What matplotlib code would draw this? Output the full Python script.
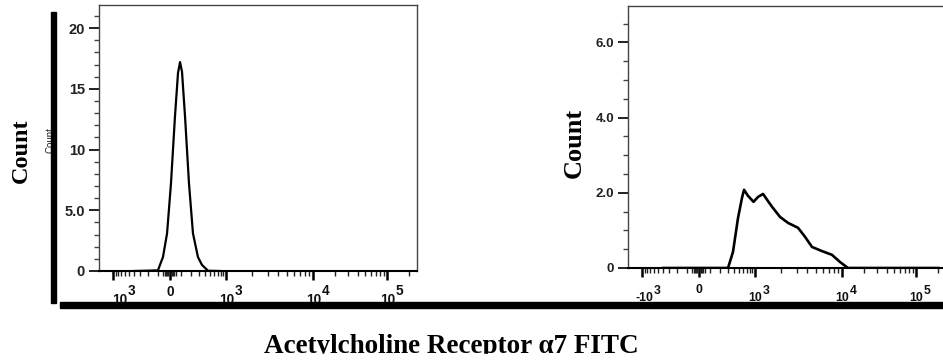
import numpy as np
import matplotlib
matplotlib.use("Agg")
import matplotlib.pyplot as plt
from matplotlib.patches import Rectangle
from matplotlib.transforms import ScaledTranslation, blended_transform_factory

plt.rcParams['font.family'] = ['Liberation Sans', 'DejaVu Sans']

# ---------------- data ----------------
left_x = [-400, -98, -80, -54, -20, 12, 45, 71, 89, 107, 136, 177, 223, 289, 351, 463, 800]
left_count = [0, 0.05, 0.5, 1.15, 3.1, 7.2, 12.7, 16.3, 17.2, 16.4, 12.7, 7.2, 3.1, 1.15, 0.5, 0.02, 0]

right_x = [-400, 305, 386, 484, 577, 629, 745, 941, 1083, 1236, 1568, 1938, 2395,
           3120, 3758, 4520, 5890, 7670, 9480, 12050, 200000]
right_count = [0, 0, 0.43, 1.33, 1.87, 2.08, 1.92, 1.76, 1.89, 1.97, 1.63, 1.36, 1.20,
               1.07, 0.83, 0.56, 0.45, 0.35, 0.16, 0, 0]

x_major = [-1000, 0, 1000, 10000, 100000]
left_xbase = ['10', '0', '10', '10', '10']
right_xbase = ['-10', '0', '10', '10', '10']
x_exp = ['3', '', '3', '4', '5']
x_minor = ([-v for v in range(100, 1000, 100)] + [-v for v in range(10, 60, 10)] +
           list(range(10, 60, 10)) + list(range(100, 1000, 100)) +
           list(range(2000, 10000, 1000)) + list(range(20000, 100000, 10000)) + [200000])

left_yticks = [0, 5, 10, 15, 20]
left_ylabels = ['0', '5.0', '10', '15', '20']
right_yticks = [0, 2, 4, 6]
right_ylabels = ['0', '2.0', '4.0', '6.0']

# ---------------- biexponential-like display scale ----------------
W = 200.0
S = 56.5 / np.arcsinh(1000.0 / W)

def fwd(x):
    x = np.asarray(x, dtype=float)
    with np.errstate(all='ignore'):
        a = 56.5 + S * np.arcsinh(x / W)
        b = 113 + 87 * np.log10(np.clip(x, 1e3, 1e4) / 1e3)
        c = 200 + 74 * np.log10(np.maximum(x, 1e4) / 1e4)
    return np.where(x <= 1e3, a, np.where(x <= 1e4, b, c))

def inv(p):
    p = np.asarray(p, dtype=float)
    with np.errstate(all='ignore'):
        a = W * np.sinh((np.minimum(p, 113) - 56.5) / S)
        b = 1e3 * 10 ** ((np.clip(p, 113, 200) - 113) / 87)
        c = 1e4 * 10 ** ((np.maximum(p, 200) - 200) / 74)
    return np.where(p <= 113, a, np.where(p <= 200, b, c))

DPI = 100
fig = plt.figure(figsize=(9.43, 3.6), dpi=DPI)
FW, FH = 943.0, 360.0

def axes_px(x0, x1, y0, y1):
    return fig.add_axes([x0 / FW, 1 - y1 / FH, (x1 - x0) / FW, (y1 - y0) / FH])

axL = axes_px(99, 417, 5, 271)
axR = axes_px(628, 946, 6, 268)

def px(dx, dy):
    return ScaledTranslation(dx / DPI, dy / DPI, fig.dpi_scale_trans)

def style(ax, xs, ys, bases, yticks, ylabels, ytop, ystep, lw, ysize, xsize,
          dx_first, top0, top10):
    ax.plot(xs, ys, color='black', lw=lw, solid_joinstyle='round', zorder=3)
    ax.set_xscale('function', functions=(fwd, inv))
    ax.set_xlim(float(inv(-14)), float(inv(304)))
    ax.set_ylim(0, ytop)
    ax.set_xticks(x_major)
    ax.set_xticklabels([])
    ax.set_xticks(x_minor, minor=True)
    ax.set_yticks(yticks)
    ax.set_yticklabels(ylabels, fontweight='bold')
    ax.set_yticks(np.arange(0, ytop, ystep), minor=True)
    for s in ['top', 'left', 'right']:
        ax.spines[s].set_color('#444')
        ax.spines[s].set_linewidth(1.0)
    ax.spines['bottom'].set_color('black')
    ax.spines['bottom'].set_linewidth(1.5)
    ax.tick_params(axis='y', which='major', direction='out', length=7.5, width=1.4,
                   color='#222', pad=2.5, labelsize=ysize, labelcolor='#222')
    ax.tick_params(axis='y', which='minor', direction='out', length=3.6, width=1.0, color='#444')
    ax.tick_params(axis='x', which='major', direction='out', length=6.5, width=1.8, color='black')
    ax.tick_params(axis='x', which='minor', direction='out', length=3.6, width=1.0, color='#222')
    # x tick labels: base number plus full-size raised exponent
    tr = blended_transform_factory(ax.transData, ax.transAxes)
    for i, (xv, b, e) in enumerate(zip(x_major, bases, x_exp)):
        dx = dx_first if i == 0 else 0.5
        top = top0 if b == '0' else top10
        t = ax.text(xv, 0, b, transform=tr + px(dx, -top), ha='center', va='top',
                    fontsize=xsize, fontweight='bold', color='#111')
        if e:
            ax.annotate(e, xy=(1, 1), xycoords=t, xytext=(0.3, -1.6),
                        textcoords='offset points', ha='left', va='baseline',
                        fontsize=xsize, fontweight='bold', color='#111')

style(axL, left_x, left_count, left_xbase, left_yticks, left_ylabels, 21.9, 1, 1.6,
      10.5, 9.8, 6.5, 13.5, 21.5)
style(axR, right_x, right_count, right_xbase, right_yticks, right_ylabels, 6.97, 0.5, 1.9,
      9.5, 8.8, 2.0, 16.0, 24.0)

# small inner y-label of the cytometry plot (partly hidden by the bar)
fig.text(50 / FW, 1 - 140 / FH, 'Count', rotation=90, ha='center', va='center',
         fontsize=7, color='#222')

# big y labels
serif = ['Liberation Serif', 'DejaVu Serif']
fig.text(21 / FW, 1 - 150.5 / FH, 'Count', rotation=90, ha='center', va='center',
         fontsize=17.5, fontweight='bold', family=serif)
fig.text(574 / FW, 1 - 143 / FH, 'Count', rotation=90, ha='center', va='center',
         fontsize=19, fontweight='bold', family=serif)

# x label
fig.text(451 / FW, 1 - 353 / FH, 'Acetylcholine Receptor α7 FITC', ha='center', va='baseline',
         fontsize=19.5, fontweight='bold', family=serif)

# thick black frame bars
fig.add_artist(Rectangle((51 / FW, 1 - 303 / FH), 5 / FW, (303 - 12) / FH,
                         transform=fig.transFigure, color='black', zorder=10))
fig.add_artist(Rectangle((60 / FW, 1 - 307.5 / FH), (FW - 60) / FW, 5.5 / FH,
                         transform=fig.transFigure, color='black', zorder=10))
# bottom crop of the original (descenders clipped)
fig.add_artist(Rectangle((0, 0), 1, (FH - 354) / FH, transform=fig.transFigure,
                         color='white', zorder=20))

fig.savefig('out.png', dpi=DPI)
